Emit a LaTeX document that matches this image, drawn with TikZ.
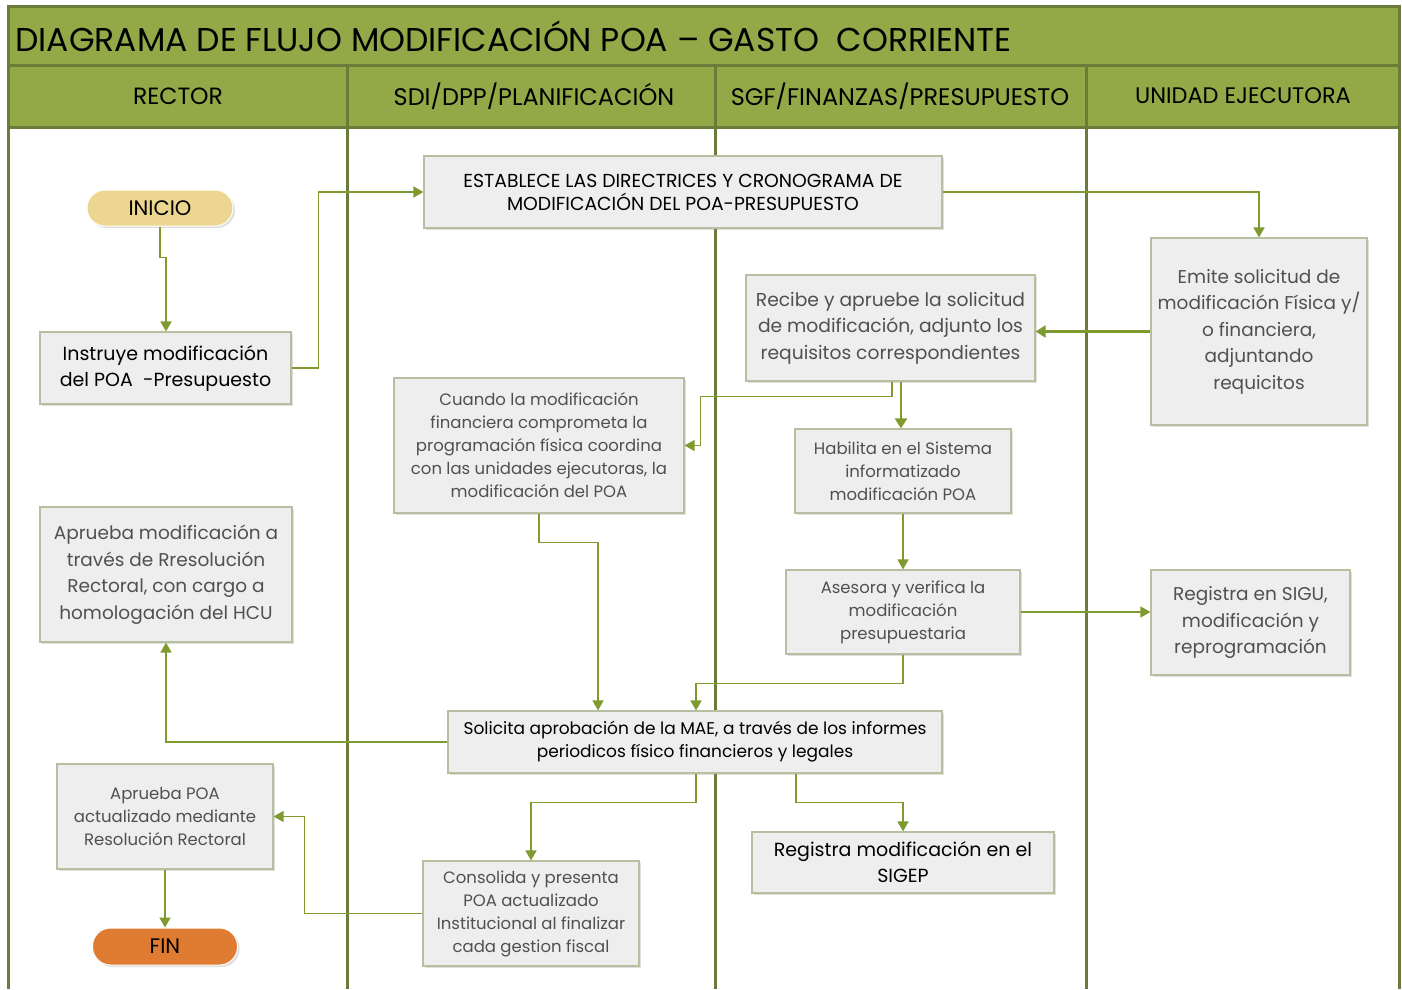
\documentclass[tikz,border=0pt]{standalone}
\usepackage{fontspec}
\setmainfont{Poppins}
\usetikzlibrary{arrows.meta,shadows,positioning}
\definecolor{hdrgreen}{HTML}{93A847}
\definecolor{lanedark}{HTML}{6B7B3A}
\definecolor{conn}{HTML}{7F9A2E}
\definecolor{boxfill}{HTML}{EEEEEE}
\definecolor{boxdraw}{HTML}{B8BFA0}
\definecolor{graytext}{HTML}{505050}
\definecolor{iniciofill}{HTML}{EDD690}
\definecolor{finfill}{HTML}{E07C32}
\tikzset{
  proc/.style={draw=boxdraw, line width=1.2pt, fill=boxfill, align=center, inner sep=2pt,
    drop shadow={shadow xshift=2pt, shadow yshift=-2pt, opacity=0.25}},
  lighttxt/.style={proc, text=graytext},
  darktxt/.style={proc, text=black},
  pill/.style={rounded corners=18pt, draw=white, line width=1pt, align=center, text=black,
    drop shadow={shadow xshift=2pt, shadow yshift=-2pt, opacity=0.25}},
  flow/.style={draw=conn, line width=1.6pt, -{Triangle[width=11pt,length=10pt]}},
  flowthick/.style={draw=conn, line width=2.6pt, -{Triangle[width=12pt,length=10pt]}},
  hdr/.style={fill=hdrgreen, draw=lanedark, line width=3pt},
  lane/.style={draw=lanedark, line width=3pt},
}
\begin{document}
\begin{tikzpicture}[x=1pt,y=-1pt]
\useasboundingbox (0,0) rectangle (1402,989);
\fill[white] (0,0) rectangle (1402,989);
% header
\draw[hdr] (8,6) rectangle (1399,65);
\draw[hdr] (8,65) rectangle (1399,127);
\foreach \x in {8,347,715,1086,1399} \draw[lane] (\x,65) -- (\x,989);
\node[anchor=west, font=\fontsize{33}{36}\selectfont] (title) at (12,36) {DIAGRAMA DE FLUJO MODIFICACIÓN POA -- GASTO\ \ CORRIENTE};
\node[font=\fontsize{23.5}{26}\selectfont] (h1) at (178,96) {RECTOR};
\node[font=\fontsize{24}{26}\selectfont] (h2) at (534,96) {SDI/DPP/PLANIFICACIÓN};
\node[font=\fontsize{24}{26}\selectfont] (h3) at (900,96) {SGF/FINANZAS/PRESUPUESTO};
\node[font=\fontsize{22.5}{24}\selectfont] (h4) at (1243,96) {UNIDAD EJECUTORA};

% nodes
\node[pill, fill=iniciofill, minimum width=146pt, minimum height=36pt, font=\fontsize{21}{24}\selectfont] (inicio) at (160,208) {INICIO};
\node[darktxt, minimum width=251pt, minimum height=72pt, font=\fontsize{19}{26}\selectfont] (instruye) at (165.5,368) {Instruye modificación\\del POA\ \ -Presupuesto};
\node[darktxt, minimum width=518pt, minimum height=72pt, font=\fontsize{18.8}{23}\selectfont] (establece) at (683,192) {ESTABLECE LAS DIRECTRICES Y CRONOGRAMA DE\\MODIFICACIÓN DEL POA-PRESUPUESTO};
\node[lighttxt, minimum width=216pt, minimum height=187pt, font=\fontsize{18.5}{26.5}\selectfont] (emite) at (1259,331.5) {Emite solicitud de\\modificación Física y/\\o financiera,\\adjuntando\\requicitos};
\node[lighttxt, minimum width=289pt, minimum height=106pt, font=\fontsize{18.7}{26.5}\selectfont] (recibe) at (890.5,328) {Recibe y apruebe la solicitud\\de modificación, adjunto los\\requisitos correspondientes};
\node[lighttxt, minimum width=290pt, minimum height=135pt, font=\fontsize{16.5}{23}\selectfont] (cuando) at (539,445.5) {Cuando la modificación\\financiera comprometa la\\programación física coordina\\con las unidades ejecutoras, la\\modificación del POA};
\node[lighttxt, minimum width=216pt, minimum height=84pt, font=\fontsize{16.5}{23}\selectfont] (habilita) at (903,471) {Habilita en el Sistema\\informatizado\\modificación POA};
\node[lighttxt, minimum width=234pt, minimum height=84pt, font=\fontsize{16.5}{23}\selectfont] (asesora) at (903,612) {Asesora y verifica la\\modificación\\presupuestaria};
\node[lighttxt, minimum width=199pt, minimum height=105pt, font=\fontsize{18.5}{26.5}\selectfont] (sigu) at (1250.5,622.5) {Registra en SIGU,\\modificación y\\reprogramación};
\node[lighttxt, minimum width=252pt, minimum height=135pt, font=\fontsize{18.5}{26.5}\selectfont] (apruebamod) at (166,574.5) {Aprueba modificación a\\través de Rresolución\\Rectoral, con cargo a\\homologación del HCU};
\node[darktxt, minimum width=494pt, minimum height=62pt, font=\fontsize{17}{23}\selectfont] (solicita) at (695,742) {Solicita aprobación de la MAE, a través de los informes\\periodicos físico financieros y legales};
\node[lighttxt, minimum width=216pt, minimum height=105pt, font=\fontsize{16.5}{23}\selectfont] (apruebapoa) at (165,816.5) {Aprueba POA\\actualizado mediante\\Resolución Rectoral};
\node[lighttxt, minimum width=216pt, minimum height=105pt, font=\fontsize{16.5}{23}\selectfont] (consolida) at (531,913.5) {Consolida y presenta\\POA actualizado\\Institucional al finalizar\\cada gestion fiscal};
\node[darktxt, minimum width=302pt, minimum height=61pt, font=\fontsize{19}{26}\selectfont] (sigep) at (903,862.5) {Registra modificación en el\\SIGEP};
\node[pill, fill=finfill, minimum width=145pt, minimum height=37pt, font=\fontsize{21}{24}\selectfont] (fin) at (165,946.5) {FIN};

% connectors
\draw[flow] (inicio.south) -- ++(0,31) -| ([xshift=0.5pt]instruye.north);
\draw[flow] (instruye.east) -- ++(27,0) |- (establece.west);
\draw[flow] (establece.east) -| (emite.north);
\draw[flowthick] (emite.west) -- (emite.west -| recibe.east);
\draw[flowthick] ([xshift=10.5pt]recibe.south) -- ([xshift=10.5pt]recibe.south |- habilita.north);
\draw[flow] ([xshift=1.5pt]recibe.south) -- ++(0,15) -| ([xshift=16pt]cuando.east) -- (cuando.east);
\draw[flow] (habilita.south) -- (asesora.north);
\draw[flow] (asesora.east) -- (asesora.east -| sigu.west);
\draw[flow] (asesora.south) -- ++(0,29) -| ([xshift=1pt]solicita.north);
\draw[flow] (cuando.south) -- ++(0,29) -| ([xshift=-97pt]solicita.north);
\draw[flow] (solicita.west) -| (apruebamod.south);
\draw[flow] ([xshift=1pt]solicita.south) -- ++(0,29) -| (consolida.north);
\draw[flow] ([xshift=101pt]solicita.south) -- ++(0,29) -| (sigep.north);
\draw[flow] (consolida.west) -- ++(-118,0) |- (apruebapoa.east);
\draw[flow] (apruebapoa.south) -- (fin.north);
\end{tikzpicture}
\end{document}
